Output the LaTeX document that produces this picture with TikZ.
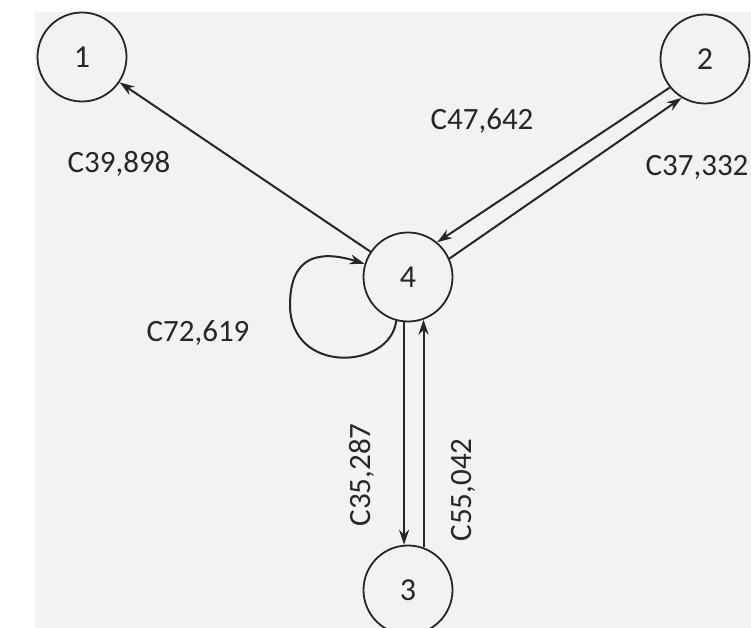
\documentclass[tikz,border=0pt]{standalone}
\usepackage{fontspec}
\setmainfont{Carlito}
\usetikzlibrary{arrows.meta}
\begin{document}
\begin{tikzpicture}[x=1pt,y=-1pt,
  vert/.style={circle,draw=black!85,line width=1.8pt,minimum size=89pt,inner sep=0pt,font=\fontsize{32}{34}\selectfont,text=black!85},
  conn/.style={draw=black!85,line width=2pt,-{Stealth[length=15pt,width=10pt]}},
  lbl/.style={font=\fontsize{31}{33}\selectfont,text=black!85,inner sep=0pt}]
\useasboundingbox (0,0) rectangle (751,628);
\clip (0,0) rectangle (751,628);
\fill[black!5] (35,12) rectangle (751,628);
\node[vert] (n1) at (82,57) {1};
\node[vert] (n2) at (705,59) {2};
\node[vert] (n4) at (408,277) {4};
\node[vert] (n3) at (408,590) {3};
\draw[conn] (n4) -- (n1);
\draw[conn] (n2.219) -- (n4.50);
\draw[conn] (n4.24) -- (n2.239);
\draw[conn] (n4.265) -- (n3.95);
\draw[conn] (n3.70) -- (n4.290);
\draw[conn] (n4.255) .. controls (390,370) and (290,375) .. (290,305) .. controls (290,255) and (320,250) .. (n4.163);
\node[lbl] (l1) at (119,164) {C39,898};
\node[lbl] (l2) at (482,121) {C47,642};
\node[lbl] (l3) at (697,167) {C37,332};
\node[lbl] (l4) at (198,333) {C72,619};
\node[lbl,rotate=90] (l5) at (362,475) {C35,287};
\node[lbl,rotate=90] (l6) at (463,490) {C55,042};
\end{tikzpicture}
\end{document}
